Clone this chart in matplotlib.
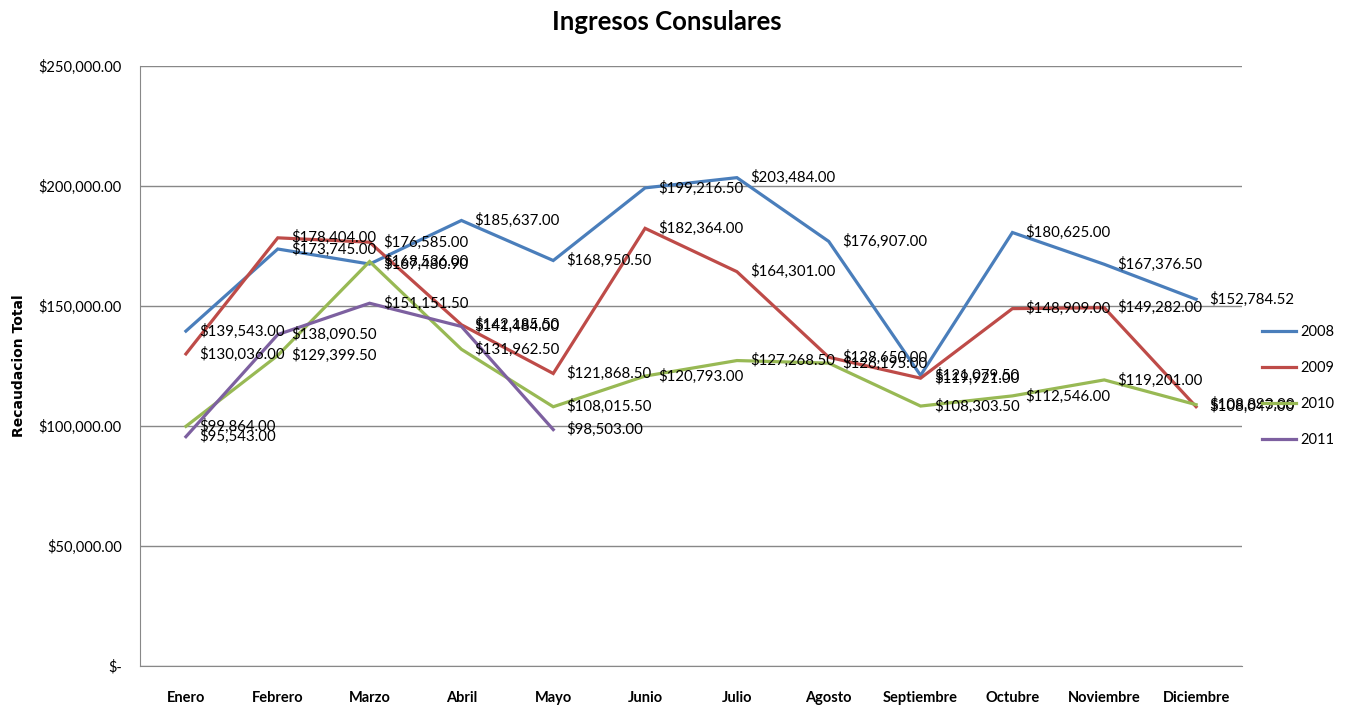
import matplotlib
matplotlib.use("Agg")
import matplotlib.pyplot as plt

months = ["Enero", "Febrero", "Marzo", "Abril", "Mayo", "Junio", "Julio",
          "Agosto", "Septiembre", "Octubre", "Noviembre", "Diciembre"]
y2008 = [139543.00, 173745.00, 167480.90, 185637.00, 168950.50, 199216.50,
         203484.00, 176907.00, 121079.50, 180625.00, 167376.50, 152784.52]
y2009 = [130036.00, 178404.00, 176585.00, 142185.50, 121868.50, 182364.00,
         164301.00, 128650.00, 119921.00, 148909.00, 149282.00, 108047.00]
y2010 = [99864.00, 129399.50, 168536.00, 131962.50, 108015.50, 120793.00,
         127268.50, 126195.00, 108303.50, 112546.00, 119201.00, 108893.00]
y2011 = [95543.00, 138090.50, 151151.50, 141484.00, 98503.00]
series = [("2008", y2008, "#4A7EBB"), ("2009", y2009, "#BE4B48"),
          ("2010", y2010, "#98B954"), ("2011", y2011, "#7D60A0")]
yticks = [0, 50000, 100000, 150000, 200000, 250000]

plt.rcParams['font.family'] = ['Lato', 'DejaVu Sans']

fig = plt.figure(figsize=(13.48, 7.09), dpi=100)
ax = fig.add_axes([140/1348, 1 - 666/709, 1102/1348, 600/709])

for name, vals, col in series:
    xs = list(range(len(vals)))
    ax.plot(xs, vals, color=col, lw=2.3, label=name, solid_joinstyle='miter')
    for x, v in zip(xs, vals):
        ax.annotate(f"${v:,.2f}", (x, v), xytext=(9.5, 0), textcoords="offset points",
                    ha="left", va="center", fontsize=10.8, color="black")

ax.set_xlim(-0.5, 11.5)
ax.set_ylim(0, 250000)
ax.set_yticks(yticks)
ax.set_yticklabels(["$-" if t == 0 else f"${t:,.2f}" for t in yticks], fontsize=10.5)
ax.set_xticks(range(12))
ax.set_xticklabels(months, fontsize=10.5, fontweight="bold")
ax.tick_params(length=0)
ax.tick_params(axis="x", pad=18)
ax.tick_params(axis="y", pad=13)
ax.grid(axis="y", color="#888888", lw=1)
for s in ["top", "right"]:
    ax.spines[s].set_visible(False)
for s in ["left", "bottom"]:
    ax.spines[s].set_color("#888888")
ax.set_axisbelow(True)

ax.set_ylabel("Recaudacion Total", fontsize=10, fontweight="bold",
              family=["DejaVu Sans"])
ax.yaxis.set_label_coords(-114/1102, 0.5)

fig.text(667/1348, 1 - 22/709, "Ingresos Consulares", ha="center", va="center",
         fontsize=18.5, fontweight="bold")

leg = fig.legend(loc="center left", bbox_to_anchor=(1262/1348, 1 - 386/709),
                 frameon=False, fontsize=10.5, handlelength=2.3, handletextpad=0.3,
                 labelspacing=1.5, borderaxespad=0, borderpad=0)

fig.savefig("out.png", dpi=100)
